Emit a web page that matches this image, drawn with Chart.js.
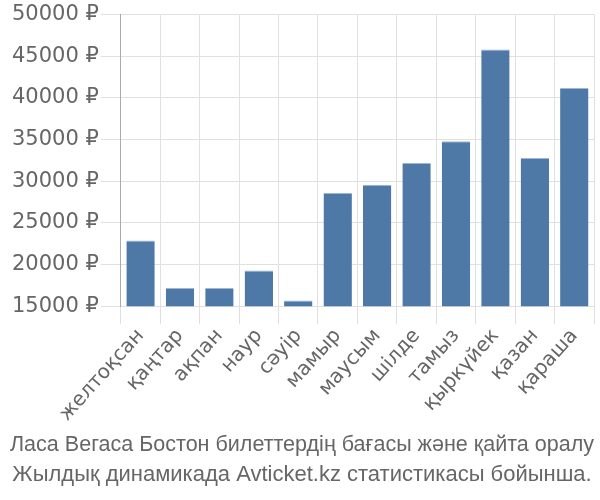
<!DOCTYPE html>
<html>
<head>
<meta charset="utf-8">
<script src="https://cdn.jsdelivr.net/npm/chart.js@4/dist/chart.umd.min.js"></script>
<style>
  body { margin: 0; background: #fff; }
</style>
</head>
<body>
<canvas id="grafico" width="600" height="500"></canvas>
<script>
const months = ["желтоқсан", "қаңтар", "ақпан", "наур", "сәуір", "мамыр", "маусым", "шілде", "тамыз", "қыркүйек", "қазан", "қараша"];
const prices = [22900, 17200, 17200, 19300, 15700, 28600, 29600, 32200, 34800, 45800, 32800, 41200];
const titleLines = ["Ласа Вегаса Бостон билеттердің бағасы және қайта оралу", "Жылдық динамикада Avticket.kz статистикасы бойынша."];

Chart.defaults.font.family = "'DejaVu Sans', sans-serif";
Chart.defaults.color = "#666";

new Chart("grafico", {
    type: "bar",
    data: {
        labels: months,
        datasets: [{
            data: prices,
            backgroundColor: "#4e79a7",
            borderColor: "#9fb6d3",
            borderWidth: { top: 1, left: 0, right: 0, bottom: 0 }
        }]
    },
    options: {
        responsive: false,
        animation: false,
        layout: { padding: { left: 10, right: 6, top: 4, bottom: 10 } },
        plugins: {
            legend: { display: false },
            tooltip: { enabled: false },
            title: {
                display: true,
                position: "bottom",
                text: titleLines,
                color: "#666",
                font: { family: "'Liberation Sans', Arial, sans-serif", size: 22, weight: "normal", lineHeight: 1.36 },
                padding: { top: 4, bottom: 0 }
            }
        },
        scales: {
            x: {
                grid: { color: "#e0e0e0", tickLength: 18, offset: true },
                border: { color: "#e0e0e0" },
                ticks: { font: { size: 20 }, color: "#666", minRotation: 48, maxRotation: 48, padding: 0 }
            },
            y: {
                min: 15000,
                max: 50000,
                grid: { color: "#e0e0e0", tickLength: 20 },
                border: { color: "#aaa" },
                ticks: {
                    stepSize: 5000,
                    font: { size: 21 },
                    color: "#666",
                    padding: 2,
                    callback: (v) => v + " ₽"
                }
            }
        }
    }
});
</script>
</body>
</html>
